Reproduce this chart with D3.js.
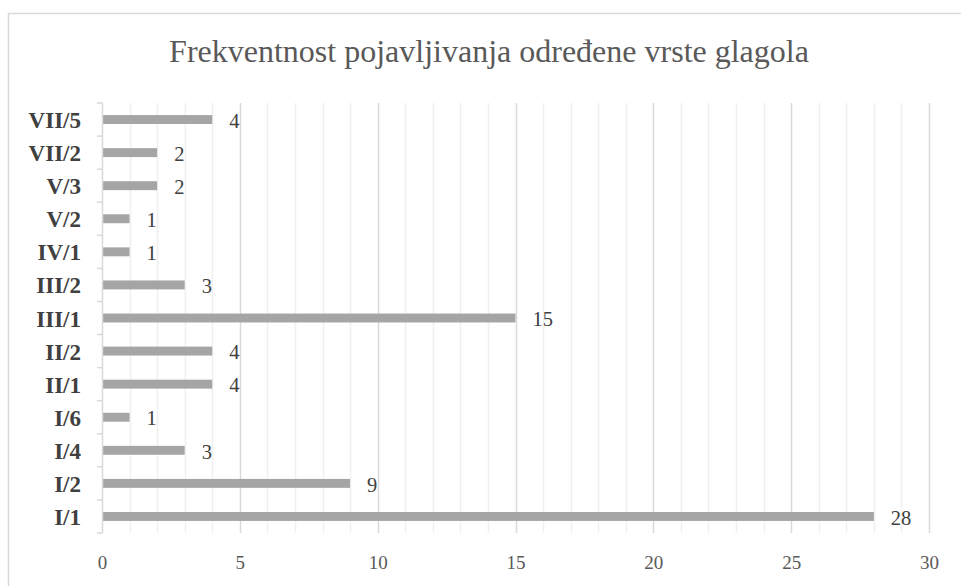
<!DOCTYPE html>
<html>
<head>
<meta charset="utf-8">
<script src="https://cdn.jsdelivr.net/npm/d3@7"></script>
<style>
  body { margin: 0; background: #fff; }
  svg { display: block; }
</style>
</head>
<body>
<div id="wrapper"></div>
<script>
// Data (top to bottom as drawn)
const categories = ["VII/5", "VII/2", "V/3", "V/2", "IV/1", "III/2", "III/1", "II/2", "II/1", "I/6", "I/4", "I/2", "I/1"]
const counts = [4, 2, 2, 1, 1, 3, 15, 4, 4, 1, 3, 9, 28]
const xTicks = [0, 5, 10, 15, 20, 25, 30]
const titleText = "Frekventnost pojavljivanja određene vrste glagola"

const dataset = categories.map((c, i) => ({ cat: c, value: counts[i] }))
const catAccessor = d => d.cat
const valueAccessor = d => d.value

let dimensions = {
    width: 961,
    height: 586,
    margin: { top: 103, right: 32, bottom: 53, left: 102 }
}
dimensions.boundedWidth = dimensions.width - dimensions.margin.left - dimensions.margin.right
dimensions.boundedHeight = dimensions.height - dimensions.margin.top - dimensions.margin.bottom

const serif = "Liberation Serif"

const wrapper = d3.select("#wrapper")
    .append("svg")
        .attr("width", dimensions.width)
        .attr("height", dimensions.height)

// chart border
wrapper.append("rect")
    .attr("x", 8.5)
    .attr("y", 13.5)
    .attr("width", 1000)
    .attr("height", 1000)
    .attr("fill", "none")
    .attr("stroke", "#d9d9d9")
    .attr("stroke-width", 1.5)

// title
wrapper.append("text")
    .attr("x", 489)
    .attr("y", 62)
    .attr("text-anchor", "middle")
    .attr("fill", "#595959")
    .attr("font-family", serif)
    .attr("font-size", 32)
    .text(titleText)

const bounds = wrapper.append("g")
    .attr("transform", `translate(${dimensions.margin.left}, ${dimensions.margin.top})`)

// Scales
const xScale = d3.scaleLinear()
    .domain([0, 30])
    .range([0, dimensions.boundedWidth])

const yScale = d3.scaleBand()
    .domain(categories)
    .range([0, dimensions.boundedHeight])
    .paddingInner(0.73)
    .paddingOuter(0.365)

// gridlines: minor every 1, major every 5
const minor = d3.range(1, 30).filter(v => v % 5 != 0)
bounds.append("g")
    .selectAll("line")
    .data(minor)
    .join("line")
        .attr("x1", d => Math.round(xScale(d)) + 0.5)
        .attr("x2", d => Math.round(xScale(d)) + 0.5)
        .attr("y1", 0)
        .attr("y2", dimensions.boundedHeight)
        .attr("stroke", "#f0f0f0")
        .attr("stroke-width", 1.5)

bounds.append("g")
    .selectAll("line")
    .data(xTicks.slice(1))
    .join("line")
        .attr("x1", d => Math.round(xScale(d)) + 0.5)
        .attr("x2", d => Math.round(xScale(d)) + 0.5)
        .attr("y1", 0)
        .attr("y2", dimensions.boundedHeight)
        .attr("stroke", "#d9d9d9")
        .attr("stroke-width", 1.5)

// bars
bounds.append("g")
    .selectAll("rect")
    .data(dataset)
    .join("rect")
        .attr("x", 0)
        .attr("y", d => yScale(catAccessor(d)))
        .attr("width", d => xScale(valueAccessor(d)))
        .attr("height", yScale.bandwidth())
        .attr("fill", "#a5a5a5")

// value labels
bounds.append("g")
    .selectAll("text")
    .data(dataset)
    .join("text")
        .attr("x", d => xScale(valueAccessor(d)) + 17)
        .attr("y", d => yScale(catAccessor(d)) + yScale.bandwidth() / 2)
        .attr("dy", "0.4em")
        .attr("fill", "#404040")
        .attr("font-family", serif)
        .attr("font-size", 20.5)
        .text(valueAccessor)

// y axis (ticks at category boundaries)
const step = yScale.step()
const boundaries = categories.map(c => yScale(c) + yScale.bandwidth() / 2 - step / 2)
boundaries.push(dimensions.boundedHeight)

const yAxis = bounds.append("g")
yAxis.append("line")
    .attr("x1", 0.5).attr("x2", 0.5)
    .attr("y1", 0).attr("y2", dimensions.boundedHeight)
    .attr("stroke", "#d9d9d9")
    .attr("stroke-width", 1.5)
yAxis.selectAll(".tick")
    .data(boundaries)
    .join("line")
        .attr("class", "tick")
        .attr("x1", -5).attr("x2", 0.5)
        .attr("y1", d => d).attr("y2", d => d)
        .attr("stroke", "#d9d9d9")
        .attr("stroke-width", 1.5)
yAxis.selectAll("text")
    .data(categories)
    .join("text")
        .attr("x", -21)
        .attr("y", d => yScale(d) + yScale.bandwidth() / 2)
        .attr("dy", "0.37em")
        .attr("text-anchor", "end")
        .attr("fill", "#404040")
        .attr("font-family", serif)
        .attr("font-size", 23)
        .attr("font-weight", "bold")
        .text(d => d)

// x axis labels
const xAxisGenerator = d3.axisBottom()
    .scale(xScale)
    .tickValues(xTicks)
    .tickSize(0)
    .tickPadding(23)

const xAxis = bounds.append("g")
    .attr("transform", `translate(0, ${dimensions.boundedHeight})`)
    .call(xAxisGenerator)
xAxis.select(".domain").remove()
xAxis.attr("font-family", serif).attr("font-size", 19)
xAxis.selectAll("text")
    .attr("fill", "#595959")
</script>
</body>
</html>
